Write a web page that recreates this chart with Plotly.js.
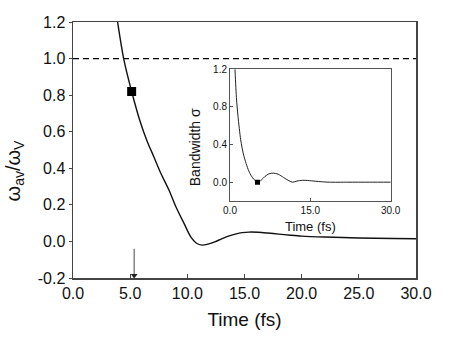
<!DOCTYPE html>
<html>
<head>
<meta charset="utf-8">
<script src="https://cdn.plot.ly/plotly-3.0.1.min.js"></script>
<style>
  html, body { margin: 0; padding: 0; background: #fff; }
  #chart { width: 457px; height: 349px; }
</style>
</head>
<body>
<div id="chart"></div>
<script>
// main curve: omega_av / omega_V against time (fs)
const mainTime  = [3.6, 3.9, 4.43, 5.13, 5.9, 6.5, 7.05, 7.7, 8.4, 9.0, 9.7, 10.3, 10.8, 11.3, 11.8, 12.4, 13.0, 13.6, 14.2, 14.8, 15.4, 16.2, 17.0, 18.0, 19.0, 20.0, 22.0, 25.0, 28.0, 30.0];
const mainOmega = [1.33, 1.2, 1.0, 0.82, 0.65, 0.545, 0.466, 0.37, 0.28, 0.19, 0.10, 0.025, -0.01, -0.02, -0.015, -0.002, 0.014, 0.029, 0.040, 0.048, 0.051, 0.050, 0.046, 0.040, 0.034, 0.029, 0.024, 0.019, 0.016, 0.015];

// highlighted point on both curves
const markTime  = [5.13];
const markOmega = [0.82];
const markSigma = [0.0];

// reference level
const refTime  = [0, 30];
const refLevel = [1.0, 1.0];

// arrow pointing at the marked time on the x axis
const arrowTime  = [5.35, 5.35];
const arrowLevel = [-0.04, -0.19];
const arrowTip   = [-0.186];

// inset: bandwidth sigma against time (fs)
const insetTime  = [0.8, 0.93, 1.2, 1.5, 2.0, 2.5, 3.0, 3.5, 4.0, 4.5, 5.2, 5.8, 6.5, 7.3, 8.1, 9.0, 10.0, 11.0, 11.7, 12.5, 13.5, 14.5, 16.0, 17.0, 18.5, 22.0, 26.0, 30.0];
const insetSigma = [1.35, 1.2, 0.9, 0.7, 0.45, 0.30, 0.20, 0.12, 0.065, 0.028, 0.0, 0.02, 0.06, 0.09, 0.096, 0.085, 0.05, 0.015, 0.0, 0.012, 0.02, 0.018, 0.01, 0.005, 0.0, 0.0, 0.0, 0.0];

// tick labels
const mainXTicks  = [0, 5, 10, 15, 20, 25, 30];
const mainXLabels = ["0.0", "5.0", "10.0", "15.0", "20.0", "25.0", "30.0"];
const mainYTicks  = [-0.2, 0, 0.2, 0.4, 0.6, 0.8, 1.0, 1.2];
const mainYLabels = ["-0.2", "0.0", "0.2", "0.4", "0.6", "0.8", "1.0", "1.2"];
const insetXTicks  = [0, 15, 30];
const insetXLabels = ["0.0", "15.0", "30.0"];
const insetYTicks  = [0, 0.4, 0.8, 1.2];
const insetYLabels = ["0.0", "0.4", "0.8", "1.2"];

const FONT = "Liberation Sans, Arial, sans-serif";

const traces = [
  {
    x: refTime, y: refLevel, mode: "lines", xaxis: "x", yaxis: "y",
    line: { color: "#000", width: 1.2, dash: "6px,4px" }, hoverinfo: "skip"
  },
  {
    x: mainTime, y: mainOmega, mode: "lines", xaxis: "x", yaxis: "y",
    line: { color: "#111", width: 1.4, shape: "spline", smoothing: 0.8 }
  },
  {
    x: markTime, y: markOmega, mode: "markers", xaxis: "x", yaxis: "y",
    marker: { symbol: "square", size: 9, color: "#000" }
  },
  {
    x: arrowTime, y: arrowLevel, mode: "lines", xaxis: "x", yaxis: "y",
    line: { color: "#666", width: 1.2 }, cliponaxis: false
  },
  {
    x: [arrowTime[0]], y: arrowTip, mode: "markers", xaxis: "x", yaxis: "y",
    marker: { symbol: "triangle-down", size: 6, color: "#222" }, cliponaxis: false
  },
  {
    x: insetTime, y: insetSigma, mode: "lines", xaxis: "x2", yaxis: "y2",
    line: { color: "#222", width: 1, shape: "spline", smoothing: 0.8 }
  },
  {
    x: markTime, y: markSigma, mode: "markers", xaxis: "x2", yaxis: "y2",
    marker: { symbol: "square", size: 5, color: "#000" }
  }
];

const layout = {
  width: 457, height: 349,
  margin: { l: 73, r: 41, t: 22, b: 71 },
  paper_bgcolor: "#fff", plot_bgcolor: "#fff",
  showlegend: false,
  font: { family: FONT, color: "#111" },
  xaxis: {
    domain: [0, 1], range: [0, 30],
    tickvals: mainXTicks, ticktext: mainXLabels,
    ticks: "inside", ticklen: 4, tickcolor: "#444",
    showline: true, mirror: true, linecolor: "#444", linewidth: 1.5,
    showgrid: false, zeroline: false,
    tickfont: { size: 16, family: FONT },
    title: { text: "Time (fs)", font: { size: 19, family: FONT }, standoff: 12 }
  },
  yaxis: {
    domain: [0, 1], range: [-0.2, 1.2],
    tickvals: mainYTicks, ticktext: mainYLabels,
    ticks: "outside", ticklen: 3, tickcolor: "#444",
    showline: true, mirror: true, linecolor: "#444", linewidth: 1.5,
    showgrid: false, zeroline: false,
    tickfont: { size: 16, family: FONT }
  },
  xaxis2: {
    domain: [0.4577, 0.9262], range: [0, 30], anchor: "y2",
    tickvals: insetXTicks, ticktext: insetXLabels,
    ticks: "inside", ticklen: 3, tickcolor: "#555",
    showline: true, mirror: true, linecolor: "#555", linewidth: 1,
    showgrid: false, zeroline: false,
    tickfont: { size: 10, family: FONT },
    title: { text: "Time (fs)", font: { size: 13, family: FONT }, standoff: 6 }
  },
  yaxis2: {
    domain: [0.3008, 0.8152], range: [-0.2, 1.2], anchor: "x2",
    tickvals: insetYTicks, ticktext: insetYLabels,
    ticks: "inside", ticklen: 3, tickcolor: "#555",
    showline: true, mirror: true, linecolor: "#555", linewidth: 1,
    showgrid: false, zeroline: false,
    tickfont: { size: 10, family: FONT }
  },
  annotations: [
    {
      // main y title, set a little below the axis middle as in the original
      text: "ω<sub>av</sub>/ω<sub>V</sub>", textangle: -90,
      xref: "paper", yref: "paper", x: -0.172, y: 0.42,
      xanchor: "center", yanchor: "middle", showarrow: false,
      font: { size: 20, family: FONT, color: "#111" }
    },
    {
      // inset y title
      text: "Bandwidth σ", textangle: -90,
      xref: "paper", yref: "paper", x: 0.358, y: 0.51,
      xanchor: "center", yanchor: "middle", showarrow: false,
      font: { size: 14, family: FONT, color: "#111" }
    }
  ]
};

Plotly.newPlot("chart", traces, layout, { staticPlot: true, displayModeBar: false });
</script>
</body>
</html>
